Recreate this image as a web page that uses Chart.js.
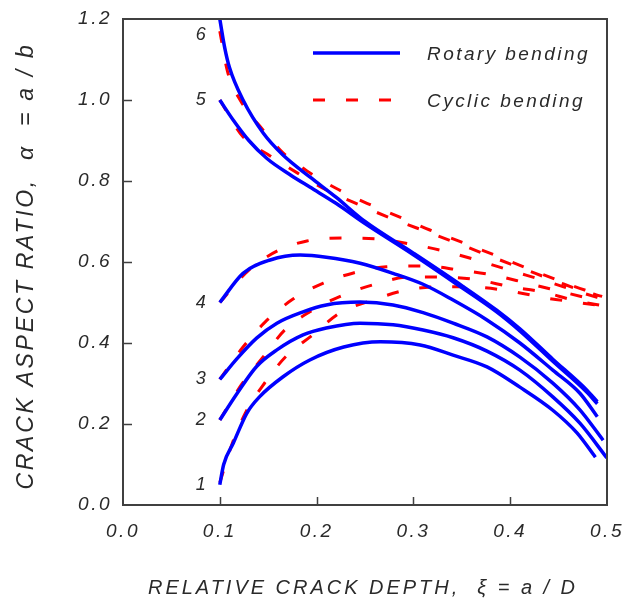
<!DOCTYPE html>
<html>
<head>
<meta charset="utf-8">
<script src="https://cdn.jsdelivr.net/npm/chart.js@4.4.1/dist/chart.umd.min.js"></script>
<style>
  html, body { margin: 0; padding: 0; background: #fff; }
  canvas { display: block; }
</style>
</head>
<body>
<canvas id="crackChart" width="628" height="602"></canvas>
<script>
// ─── data: [xi, alpha] pairs ─────────────────────────────────────────────
const curveLabels = ['1', '2', '3', '4', '5', '6'];

const rotary1 = [[0.1,0.05],[0.104,0.1],[0.114,0.153],[0.128,0.227],[0.141,0.267],[0.165,0.316],[0.193,0.358],[0.228,0.39],[0.266,0.403],[0.307,0.395],[0.341,0.37],[0.376,0.341],[0.41,0.291],[0.444,0.234],[0.469,0.178],[0.488,0.118]];
const rotary2 = [[0.1,0.21],[0.118,0.276],[0.138,0.342],[0.159,0.383],[0.186,0.42],[0.21,0.437],[0.245,0.449],[0.279,0.445],[0.31,0.432],[0.341,0.413],[0.376,0.38],[0.41,0.333],[0.444,0.267],[0.472,0.202],[0.5,0.116]];
const rotary3 = [[0.1,0.31],[0.118,0.362],[0.138,0.412],[0.159,0.449],[0.186,0.477],[0.21,0.494],[0.245,0.501],[0.279,0.494],[0.31,0.475],[0.341,0.449],[0.376,0.415],[0.41,0.365],[0.444,0.301],[0.472,0.235],[0.496,0.16]];
const rotary4 = [[0.1,0.5],[0.124,0.572],[0.152,0.605],[0.183,0.617],[0.21,0.612],[0.245,0.597],[0.279,0.572],[0.31,0.545],[0.341,0.506],[0.376,0.457],[0.41,0.4],[0.444,0.333],[0.472,0.276],[0.49,0.218]];
const rotary5 = [[0.1,1.0],[0.114,0.95],[0.13,0.9],[0.149,0.855],[0.173,0.815],[0.193,0.785],[0.22,0.745],[0.25,0.695],[0.3,0.618],[0.345,0.545],[0.386,0.477],[0.41,0.43],[0.444,0.355],[0.479,0.279],[0.49,0.25]];
const rotary6 = [[0.1,1.2],[0.105,1.13],[0.11,1.08],[0.124,1.0],[0.145,0.918],[0.165,0.865],[0.193,0.81],[0.22,0.76],[0.25,0.7],[0.3,0.622],[0.345,0.55],[0.386,0.481],[0.41,0.435],[0.444,0.36],[0.479,0.284],[0.49,0.255]];

const cyclic1 = [[0.1,0.055],[0.113,0.153],[0.127,0.23],[0.146,0.3],[0.168,0.366],[0.196,0.42],[0.224,0.474],[0.258,0.506],[0.293,0.531],[0.327,0.539],[0.365,0.538],[0.4,0.528],[0.44,0.51],[0.47,0.5],[0.5,0.49]];
const cyclic2 = [[0.1,0.21],[0.122,0.296],[0.145,0.366],[0.167,0.432],[0.193,0.477],[0.227,0.518],[0.262,0.546],[0.296,0.563],[0.327,0.563],[0.366,0.556],[0.4,0.539],[0.434,0.526],[0.465,0.506],[0.498,0.491]];
const cyclic3 = [[0.1,0.31],[0.124,0.39],[0.147,0.452],[0.176,0.509],[0.207,0.548],[0.238,0.573],[0.272,0.588],[0.312,0.59],[0.348,0.58],[0.382,0.568],[0.417,0.548],[0.451,0.528],[0.49,0.505]];
const cyclic4 = [[0.1,0.5],[0.13,0.58],[0.16,0.628],[0.19,0.652],[0.227,0.659],[0.262,0.657],[0.3,0.643],[0.335,0.625],[0.369,0.602],[0.403,0.577],[0.434,0.555],[0.469,0.528],[0.5,0.505]];
const cyclic5 = [[0.1,1.0],[0.124,0.909],[0.152,0.862],[0.18,0.82],[0.21,0.778],[0.245,0.74],[0.28,0.705],[0.317,0.672],[0.351,0.641],[0.384,0.61],[0.417,0.58],[0.448,0.552],[0.477,0.527],[0.495,0.515]];
const cyclic6 = [[0.1,1.17],[0.108,1.07],[0.121,1.0],[0.145,0.925],[0.165,0.87],[0.19,0.825],[0.22,0.782],[0.252,0.745],[0.286,0.711],[0.317,0.679],[0.351,0.648],[0.384,0.617],[0.417,0.585],[0.448,0.556],[0.477,0.531],[0.495,0.52]];

const xTickLabels = ['0.0', '0.1', '0.2', '0.3', '0.4', '0.5'];
const yTickLabels = ['0.0', '0.2', '0.4', '0.6', '0.8', '1.0', '1.2'];
const legendLabels = ['Rotary bending', 'Cyclic bending'];
const xTitle = 'RELATIVE CRACK DEPTH,  \u03BE = a / D';
const yTitle = 'CRACK ASPECT RATIO,  \u03B1  = a / b';

const rotary = [rotary1, rotary2, rotary3, rotary4, rotary5, rotary6];
const cyclic = [cyclic1, cyclic2, cyclic3, cyclic4, cyclic5, cyclic6];

const BLUE = '#0000FF';
const RED = '#FF0000';
const AXIS = '#404040';
const TEXT = '#2a2a2a';
const FAMILY = "'Liberation Sans', Arial, sans-serif";
const DASH = [12, 21];

const toXY = (pts) => pts.map(([x, y]) => ({ x, y }));

// text stretched to a given width (the figure's font is wide and airy)
function fitText(ctx, text, width) {
  ctx.letterSpacing = '0px';
  const w = ctx.measureText(text).width;
  const n = [...text].length;
  ctx.letterSpacing = Math.max(0, (width - w) / n) + 'px';
}

const decor = {
  id: 'decor',
  beforeDraw(chart) {
    chart.ctx.letterSpacing = '2.5px';
  },
  afterDraw(chart) {
    const { ctx, chartArea: a, scales: { x, y } } = chart;
    ctx.save();

    // frame on top and right
    ctx.strokeStyle = AXIS;
    ctx.lineWidth = 2;
    ctx.beginPath();
    ctx.moveTo(a.left, a.top);
    ctx.lineTo(a.right, a.top);
    ctx.lineTo(a.right, a.bottom);
    ctx.stroke();

    // inward tick marks
    ctx.lineWidth = 1.5;
    ctx.beginPath();
    x.ticks.forEach((t) => {
      const px = Math.round(x.getPixelForValue(t.value)) + 0.5;
      if (px > a.left + 2 && px < a.right - 2) {
        ctx.moveTo(px, a.bottom);
        ctx.lineTo(px, a.bottom - 8);
      }
    });
    y.ticks.forEach((t) => {
      const py = Math.round(y.getPixelForValue(t.value)) + 0.5;
      if (py > a.top + 2 && py < a.bottom - 2) {
        ctx.moveTo(a.left, py);
        ctx.lineTo(a.left + 9, py);
      }
    });
    ctx.stroke();

    // curve numbers at the start of each curve
    ctx.fillStyle = TEXT;
    ctx.font = `italic 18px ${FAMILY}`;
    ctx.letterSpacing = '0px';
    ctx.textAlign = 'center';
    ctx.textBaseline = 'middle';
    rotary.forEach((pts, i) => {
      const px = x.getPixelForValue(pts[0][0]) - 19;
      const py = Math.max(a.top + 16, y.getPixelForValue(pts[0][1]));
      ctx.fillText(curveLabels[i], px, py);
    });

    // legend
    const lx0 = a.left + 190, lx1 = a.left + 277, tx = a.left + 304;
    const rows = [a.top + 34, a.top + 81];
    ctx.lineWidth = 3.5;
    ctx.strokeStyle = BLUE;
    ctx.beginPath(); ctx.moveTo(lx0, rows[0]); ctx.lineTo(lx1, rows[0]); ctx.stroke();
    ctx.lineWidth = 3;
    ctx.strokeStyle = RED;
    ctx.setLineDash(DASH);
    ctx.beginPath(); ctx.moveTo(lx0, rows[1]); ctx.lineTo(lx1, rows[1]); ctx.stroke();
    ctx.setLineDash([]);
    ctx.textAlign = 'left';
    ctx.textBaseline = 'alphabetic';
    ctx.font = `italic 19px ${FAMILY}`;
    fitText(ctx, legendLabels[0], 163);
    ctx.fillText(legendLabels[0], tx, rows[0] + 7);
    fitText(ctx, legendLabels[1], 158);
    ctx.fillText(legendLabels[1], tx, rows[1] + 7);

    // axis titles
    ctx.textAlign = 'center';
    ctx.font = `italic 20px ${FAMILY}`;
    fitText(ctx, xTitle, 430);
    ctx.fillText(xTitle, (a.left + a.right) / 2 - 2, 594);

    ctx.translate(33, 266);
    ctx.rotate(-Math.PI / 2);
    ctx.font = `italic 23px ${FAMILY}`;
    fitText(ctx, yTitle, 447);
    ctx.fillText(yTitle, 0, 0);

    ctx.restore();
  },
};

const datasets = [
  ...rotary.map((pts, i) => ({
    label: 'Rotary ' + curveLabels[i],
    data: toXY(pts),
    borderColor: BLUE,
    borderWidth: 3.5,
    pointRadius: 0,
    cubicInterpolationMode: 'monotone',
  })),
  ...cyclic.map((pts, i) => ({
    label: 'Cyclic ' + curveLabels[i],
    data: toXY(pts),
    borderColor: RED,
    borderWidth: 3,
    borderDash: DASH,
    pointRadius: 0,
    cubicInterpolationMode: 'monotone',
  })),
];

new Chart(document.getElementById('crackChart'), {
  type: 'line',
  data: { datasets },
  options: {
    responsive: false,
    animation: false,
    events: [],
    layout: { padding: { top: 19, right: 21, left: 0, bottom: 0 } },
    plugins: {
      legend: { display: false },
      tooltip: { enabled: false },
    },
    scales: {
      x: {
        type: 'linear',
        min: 0,
        max: 0.5,
        ticks: {
          stepSize: 0.1,
          padding: 15,
          color: TEXT,
          maxRotation: 0,
          font: { family: FAMILY, size: 19, style: 'italic' },
          callback: (v, i) => xTickLabels[i],
        },
        grid: { display: false, drawTicks: false },
        border: { display: true, color: AXIS, width: 2 },
        afterFit: (s) => { s.height = 97; s.paddingLeft = 0; s.paddingRight = 0; },
      },
      y: {
        type: 'linear',
        min: 0,
        max: 1.2,
        ticks: {
          stepSize: 0.2,
          padding: 11,
          color: TEXT,
          font: { family: FAMILY, size: 19, style: 'italic' },
          callback: (v, i) => yTickLabels[i],
        },
        grid: { display: false, drawTicks: false },
        border: { display: true, color: AXIS, width: 2 },
        afterFit: (s) => { s.width = 123; s.paddingTop = 0; s.paddingBottom = 0; },
      },
    },
  },
  plugins: [decor],
});
</script>
</body>
</html>
